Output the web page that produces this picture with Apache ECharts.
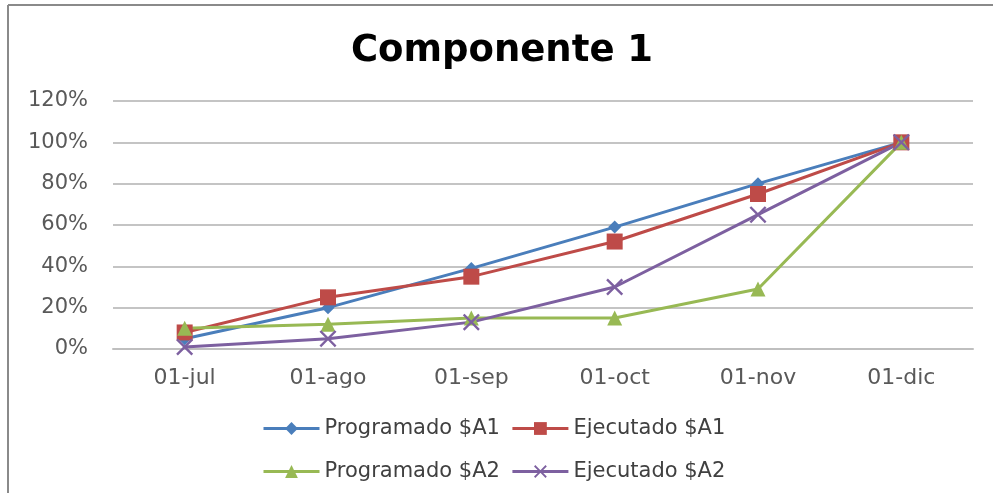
<!DOCTYPE html>
<html>
<head>
<meta charset="utf-8">
<script src="https://cdn.jsdelivr.net/npm/echarts@6/dist/echarts.min.js"></script>
<style>
  html, body { margin: 0; padding: 0; background: #fff; }
  #chart { width: 993px; height: 493px; }
</style>
</head>
<body>
<div id="chart"></div>
<script>
// fechas del eje x
const fechas = ['01-jul', '01-ago', '01-sep', '01-oct', '01-nov', '01-dic'];

// avance acumulado en %
const programadoA1 = [5, 20, 39, 59, 80, 100];
const ejecutadoA1 = [8, 25, 35, 52, 75, 100];
const programadoA2 = [10, 12, 15, 15, 29, 100];
const ejecutadoA2 = [1, 5, 13, 30, 65, 100];

const font = 'DejaVu Sans';
const cruz = 'path://M0,1 L1,0 L5,4 L9,0 L10,1 L6,5 L10,9 L9,10 L5,6 L1,10 L0,9 L4,5 Z';

const chart = echarts.init(document.getElementById('chart'));

function serie(name, data, color, symbol, size) {
    return {
        name: name,
        type: 'line',
        data: data,
        symbol: symbol,
        symbolSize: size,
        color: color,
        lineStyle: { width: 3, color: color },
        itemStyle: { color: color },
        animation: false
    };
}

const legendBase = {
    left: 257,
    itemWidth: 56, itemHeight: 16, itemGap: 11,
    lineStyle: { width: 3 },
    textStyle: { fontFamily: font, fontSize: 21, color: '#404040' }
};

chart.setOption({
    backgroundColor: '#fff',
    title: {
        text: 'Componente 1',
        left: 497,
        top: 28,
        textAlign: 'center',
        textStyle: { fontFamily: font, fontSize: 37, fontWeight: 'bold', color: '#000' }
    },
    graphic: [
        { type: 'line', shape: { x1: 8, y1: 5, x2: 993, y2: 5 }, style: { stroke: '#8a8a8a', lineWidth: 2 } },
        { type: 'line', shape: { x1: 8, y1: 5, x2: 8, y2: 493 }, style: { stroke: '#8a8a8a', lineWidth: 2 } }
    ],
    grid: { left: 113, right: 20, top: 101, bottom: 144 },
    legend: [
        Object.assign({}, legendBase, { data: ['Programado $A1', 'Ejecutado $A1'], top: 413 }),
        Object.assign({}, legendBase, { data: ['Programado $A2', 'Ejecutado $A2'], top: 456 })
    ],
    xAxis: {
        type: 'category',
        data: fechas,
        boundaryGap: true,
        axisLine: { lineStyle: { color: '#bfbfbf', width: 2 } },
        axisTick: { show: false },
        axisLabel: { fontFamily: font, fontSize: 22, color: '#595959', margin: 18 }
    },
    yAxis: {
        type: 'value',
        min: 0,
        max: 120,
        interval: 20,
        axisLine: { show: false },
        axisTick: { show: false },
        splitLine: { lineStyle: { color: '#c4c4c4', width: 2 } },
        axisLabel: { fontFamily: font, fontSize: 21, color: '#595959', margin: 25, formatter: '{value}%' }
    },
    series: [
        serie('Programado $A1', programadoA1, '#4a7ebb', 'diamond', 13),
        serie('Ejecutado $A1', ejecutadoA1, '#be4b48', 'rect', 16),
        serie('Programado $A2', programadoA2, '#98b954', 'triangle', 15),
        serie('Ejecutado $A2', ejecutadoA2, '#7d60a0', cruz, 17)
    ]
});
</script>
</body>
</html>
